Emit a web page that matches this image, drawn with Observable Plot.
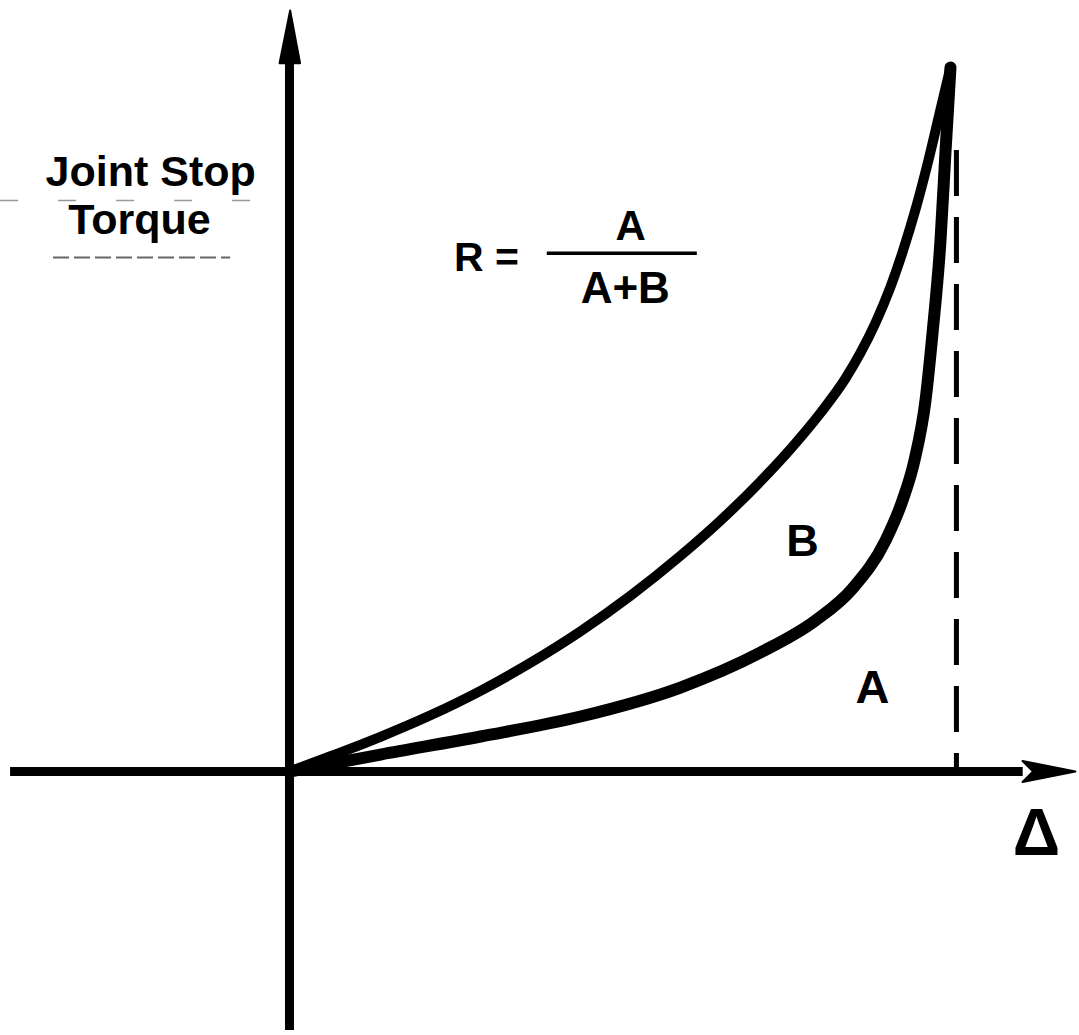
<!DOCTYPE html>
<html>
<head>
<meta charset="utf-8">
<script src="https://cdn.jsdelivr.net/npm/d3@7"></script>
<script src="https://cdn.jsdelivr.net/npm/@observablehq/plot@0.6"></script>
<style>
  html, body { margin: 0; padding: 0; background: #fff; }
  #chart svg { display: block; }
</style>
</head>
<body>
<div id="chart"></div>
<script>
// Loading curve (upper) : deflection Δ vs joint stop torque
const loadDelta  = [0, 0.620, 1.377, 2.133, 2.890, 3.646, 4.402, 5.159, 5.915, 6.520, 7.126, 7.580, 8.033, 8.411, 8.638, 8.865, 9.092, 9.289, 9.470, 9.652, 9.834, 10.0];
const loadTorque = [0, 0.216, 0.493, 0.798, 1.146, 1.544, 1.991, 2.496, 3.064, 3.564, 4.121, 4.581, 5.092, 5.582, 5.945, 6.371, 6.882, 7.418, 7.980, 8.628, 9.344, 10.0];

// Unloading curve (lower)
const unloadDelta  = [0, 0.620, 1.377, 2.890, 4.402, 5.915, 7.126, 7.958, 8.518, 9.017, 9.274, 9.455, 9.622, 9.728, 9.849, 9.924, 10.0];
const unloadTorque = [0, 0.107, 0.241, 0.497, 0.781, 1.193, 1.690, 2.145, 2.599, 3.281, 3.849, 4.418, 5.270, 6.222, 7.543, 8.793, 10.0];

// Axis extents
const xAxisRange = [-4.22, 11.1];
const yAxisRange = [-3.68, 10.1];
const xArrowHead = [[11.09, 0.150], [11.89, 0], [11.09, -0.150], [11.25, 0], [11.09, 0.150]];
const yArrowHead = [[-0.15, 10.06], [0.01, 10.81], [0.16, 10.06], [-0.15, 10.06]];

// Peak deflection marker (dashed)
const peakDelta = 10.09;
const peakTorque = 8.82;

// Labels
const labels = [
  {text: "Joint Stop", x: -2.10, y: 8.51, size: 43},
  {text: "Torque",     x: -2.27, y: 7.83, size: 43},
  {text: "R =",        x: 2.98,  y: 7.29, size: 41},
  {text: "A",          x: 5.16,  y: 7.74, size: 42},
  {text: "A+B",        x: 5.08,  y: 6.86, size: 44},
  {text: "B",          x: 7.76,  y: 3.27, size: 45},
  {text: "A",          x: 8.82,  y: 1.18, size: 47},
  {text: "Δ",          x: 11.30, y: -0.88, size: 66}
];
const fractionBar = {x1: 3.90, x2: 6.17, y: 7.36};
const topTrace = {x1: -4.37, x2: -0.47, y: 8.11};
const underTrace = {x1: -3.57, x2: -0.89, y: 7.30};

const load = loadDelta.map((d, i) => ({d, t: loadTorque[i]}));
const unload = unloadDelta.map((d, i) => ({d, t: unloadTorque[i]}));

const font = "Liberation Sans, Arial, Helvetica, sans-serif";

const chart = Plot.plot({
  width: 1079,
  height: 1035,
  margin: 0,
  style: {background: "#fff"},
  x: {domain: [-4.372, 11.952], axis: null},
  y: {domain: [-3.750, 10.952], axis: null},
  marks: [
    // faint underline traces of the scanned label
    Plot.ruleY([topTrace], {y: "y", x1: "x1", x2: "x2", stroke: "#999", strokeWidth: 1.5, strokeDasharray: "18,40"}),
    Plot.ruleY([underTrace], {y: "y", x1: "x1", x2: "x2", stroke: "#666", strokeWidth: 2, strokeDasharray: "16,5"}),
    // axes
    Plot.ruleY([0], {x1: xAxisRange[0], x2: xAxisRange[1], stroke: "#000", strokeWidth: 9}),
    Plot.ruleX([0], {y1: yAxisRange[0], y2: yAxisRange[1], stroke: "#000", strokeWidth: 9}),
    Plot.line(xArrowHead, {x: d => d[0], y: d => d[1], fill: "#000", stroke: "#000", strokeWidth: 2}),
    Plot.line(yArrowHead, {x: d => d[0], y: d => d[1], fill: "#000", stroke: "#000", strokeWidth: 2}),
    // dashed peak line
    Plot.ruleX([peakDelta], {y1: peakTorque, y2: 0, stroke: "#000", strokeWidth: 5, strokeDasharray: "46,21"}),
    // curves
    Plot.line(load, {x: "d", y: "t", stroke: "#000", strokeWidth: 10, curve: "monotone-x", strokeLinecap: "round"}),
    Plot.line(unload, {x: "d", y: "t", stroke: "#000", strokeWidth: 12, curve: "monotone-x", strokeLinecap: "round"}),
    // fraction bar
    Plot.ruleY([fractionBar], {y: "y", x1: "x1", x2: "x2", stroke: "#000", strokeWidth: 3.5}),
    // labels
    Plot.text(labels, {x: "x", y: "y", text: "text", fontSize: d => d.size, fontWeight: "bold", fontFamily: font, fill: "#000", textAnchor: "middle", lineAnchor: "middle"})
  ]
});
document.getElementById("chart").appendChild(chart);
</script>
</body>
</html>
